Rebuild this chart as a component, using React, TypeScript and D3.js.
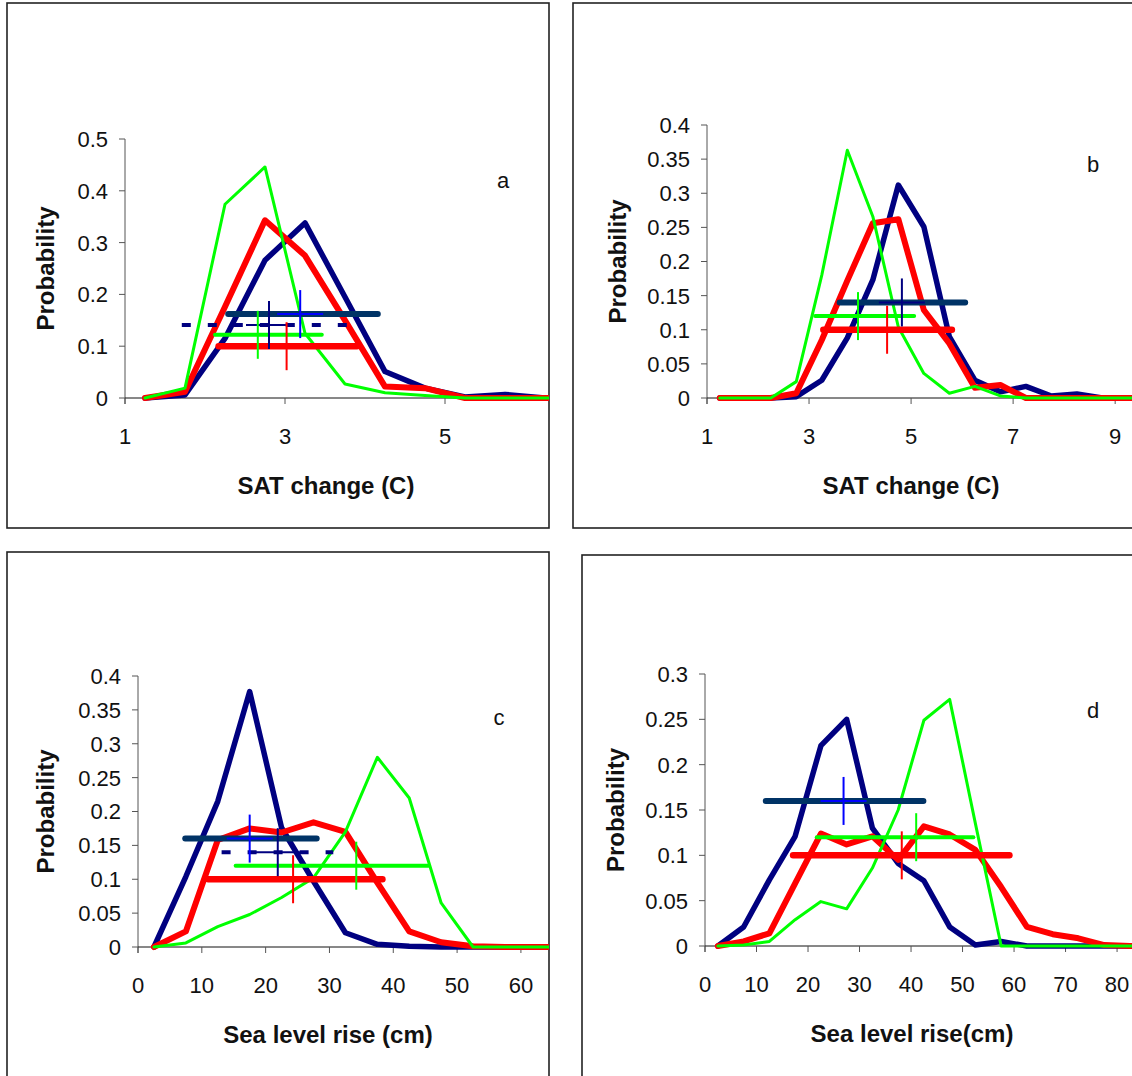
import React from "react";
import * as d3 from "d3";

// ---- Panel a: surface air temperature change (C) ----
const A_X = [1.25, 1.75, 2.25, 2.75, 3.25, 3.75, 4.25, 4.75, 5.25, 5.75, 6.25, 6.75];
const A_NAVY = [0, 0.006, 0.115, 0.266, 0.338, 0.195, 0.051, 0.019, 0.002, 0.007, 0, 0];
const A_RED = [0, 0.012, 0.176, 0.343, 0.275, 0.15, 0.022, 0.019, 0, 0, 0, 0];
const A_GREEN = [0, 0.019, 0.374, 0.446, 0.125, 0.027, 0.01, 0.005, 0, 0, 0, 0];
const A_RANGES = [
  { kind: "slate", lo: 2.29, hi: 4.16, y: 0.162, mid: 3.19 },
  { kind: "navyDash", lo: 1.71, hi: 3.78, y: 0.141, mid: 2.8 },
  { kind: "green", lo: 2.125, hi: 3.46, y: 0.122, mid: 2.66 },
  { kind: "red", lo: 2.17, hi: 3.9, y: 0.1, mid: 3.02 },
];
const A_XTICKS = [1, 3, 5];
const A_YTICKS = [0, 0.1, 0.2, 0.3, 0.4, 0.5];

// ---- Panel b: surface air temperature change (C) ----
const B_X = [1.25, 1.75, 2.25, 2.75, 3.25, 3.75, 4.25, 4.75, 5.25, 5.75, 6.25, 6.75, 7.25, 7.75, 8.25, 8.75, 9.25, 9.75];
const B_NAVY = [0, 0, 0, 0.002, 0.026, 0.088, 0.173, 0.312, 0.251, 0.09, 0.026, 0.009, 0.017, 0.003, 0.006, 0, 0, 0];
const B_RED = [0, 0, 0, 0.007, 0.085, 0.172, 0.256, 0.262, 0.129, 0.08, 0.015, 0.019, 0, 0, 0, 0, 0, 0];
const B_GREEN = [0, 0, 0, 0.024, 0.18, 0.363, 0.266, 0.104, 0.036, 0.007, 0.017, 0.003, 0, 0, 0, 0, 0, 0];
const B_RANGES = [
  { kind: "slateNavy", lo: 3.6, hi: 6.06, y: 0.14, mid: 4.82 },
  { kind: "green", lo: 3.12, hi: 5.06, y: 0.12, mid: 3.96 },
  { kind: "red", lo: 3.28, hi: 5.8, y: 0.1, mid: 4.53 },
];
const B_XTICKS = [1, 3, 5, 7, 9];
const B_YTICKS = [0, 0.05, 0.1, 0.15, 0.2, 0.25, 0.3, 0.35, 0.4];

// ---- Panel c: sea level rise (cm) ----
const C_X = [2.5, 7.5, 12.5, 17.5, 22.5, 27.5, 32.5, 37.5, 42.5, 47.5, 52.5, 57.5, 62.5, 67.5];
const C_NAVY = [0, 0.104, 0.215, 0.377, 0.176, 0.097, 0.021, 0.004, 0.001, 0, 0, 0, 0, 0];
const C_RED = [0, 0.023, 0.158, 0.175, 0.169, 0.184, 0.17, 0.095, 0.023, 0.007, 0.001, 0, 0, 0];
const C_GREEN = [0, 0.006, 0.03, 0.048, 0.073, 0.102, 0.17, 0.28, 0.22, 0.065, 0, 0, 0, 0];
const C_RANGES = [
  { kind: "slate", lo: 7.4, hi: 28.0, y: 0.16, mid: 17.5 },
  { kind: "navyDash", lo: 13.1, hi: 30.6, y: 0.14, mid: 21.9 },
  { kind: "green", lo: 15.3, hi: 45.5, y: 0.12, mid: 34.2 },
  { kind: "red", lo: 11.0, hi: 38.3, y: 0.1, mid: 24.3 },
];
const C_XTICKS = [0, 10, 20, 30, 40, 50, 60];
const C_YTICKS = [0, 0.05, 0.1, 0.15, 0.2, 0.25, 0.3, 0.35, 0.4];

// ---- Panel d: sea level rise (cm) ----
const D_X = [2.5, 7.5, 12.5, 17.5, 22.5, 27.5, 32.5, 37.5, 42.5, 47.5, 52.5, 57.5, 62.5, 67.5, 72.5, 77.5, 82.5, 87.5];
const D_NAVY = [0, 0.021, 0.073, 0.121, 0.221, 0.25, 0.13, 0.091, 0.072, 0.021, 0.001, 0.005, 0, 0, 0, 0, 0, 0];
const D_RED = [0, 0.005, 0.014, 0.069, 0.124, 0.112, 0.121, 0.095, 0.132, 0.123, 0.106, 0.065, 0.021, 0.013, 0.0085, 0.001, 0, 0];
const D_GREEN = [0, 0.001, 0.005, 0.029, 0.049, 0.041, 0.086, 0.15, 0.249, 0.272, 0.135, 0, 0, 0, 0, 0, 0, 0];
const D_RANGES = [
  { kind: "slate", lo: 11.8, hi: 42.4, y: 0.16, mid: 26.9 },
  { kind: "green", lo: 21.7, hi: 52.1, y: 0.12, mid: 41.0 },
  { kind: "red", lo: 17.1, hi: 59.1, y: 0.1, mid: 38.2 },
];
const D_XTICKS = [0, 10, 20, 30, 40, 50, 60, 70, 80];
const D_YTICKS = [0, 0.05, 0.1, 0.15, 0.2, 0.25, 0.3];

const NAVY = "#000080";
const RED = "#ff0000";
const GREEN = "#00ff00";
const SLATE = "#003366";
const BLUE = "#0000ff";
const FONT = "'Liberation Sans', Arial, sans-serif";

// bar style and cross colour for each range marker kind
const RANGE_STYLE: Record<string, { stroke: string; width: number; dash?: string; cross: string; arm: boolean }> = {
  slate: { stroke: SLATE, width: 6, cross: BLUE, arm: true },
  slateNavy: { stroke: SLATE, width: 6, cross: NAVY, arm: true },
  navyDash: { stroke: NAVY, width: 4, dash: "9,17", cross: NAVY, arm: true },
  green: { stroke: GREEN, width: 4, cross: GREEN, arm: false },
  red: { stroke: RED, width: 6.5, cross: RED, arm: false },
};

const panels = [
  {
    id: "a", frame: [7, 3, 542, 525], px: [125, 549], py: [398, 139], xDomain: [1, 6.3], yMax: 0.5,
    xs: A_X, navy: A_NAVY, red: A_RED, green: A_GREEN, ranges: A_RANGES,
    xTicks: A_XTICKS, yTicks: A_YTICKS, xTitle: "SAT change (C)", xTitleX: 326, probX: 45, letter: [503, 180],
  },
  {
    id: "b", frame: [573, 3, 600, 525], px: [707, 1132], py: [398, 125], xDomain: [1, 9.33], yMax: 0.4,
    xs: B_X, navy: B_NAVY, red: B_RED, green: B_GREEN, ranges: B_RANGES,
    xTicks: B_XTICKS, yTicks: B_YTICKS, xTitle: "SAT change (C)", xTitleX: 911, probX: 617, letter: [1093, 164],
  },
  {
    id: "c", frame: [7, 552, 542, 560], px: [138, 549], py: [947, 676], xDomain: [0, 64.4], yMax: 0.4,
    xs: C_X, navy: C_NAVY, red: C_RED, green: C_GREEN, ranges: C_RANGES,
    xTicks: C_XTICKS, yTicks: C_YTICKS, xTitle: "Sea level rise (cm)", xTitleX: 328, probX: 45, letter: [499, 717],
  },
  {
    id: "d", frame: [582, 555, 600, 560], px: [705, 1132], py: [946, 674], xDomain: [0, 82.9], yMax: 0.3,
    xs: D_X, navy: D_NAVY, red: D_RED, green: D_GREEN, ranges: D_RANGES,
    xTicks: D_XTICKS, yTicks: D_YTICKS, xTitle: "Sea level rise(cm)", xTitleX: 912, probX: 615, letter: [1093, 710],
  },
];

const fmt = (v: number) => (v === 0 ? "0" : String(+v.toFixed(2)));

function Panel({ p }: { p: (typeof panels)[number] }) {
  const x = d3.scaleLinear().domain(p.xDomain).range(p.px);
  const y = d3.scaleLinear().domain([0, p.yMax]).range(p.py);
  const line = d3
    .line<number>()
    .x((_, i) => x(p.xs[i]))
    .y((v) => y(v));
  const clipId = `clip-${p.id}`;
  const [fx, fy, fw, fh] = p.frame;
  const armV = 24;
  const armH = 23;
  return (
    <g>
      <rect x={fx} y={fy} width={fw} height={fh} fill="#fff" stroke="#222" strokeWidth={1.6} />
      <clipPath id={clipId}>
        <rect x={p.px[0] - 10} y={p.py[1] - 40} width={p.px[1] - p.px[0] + 10} height={p.py[0] - p.py[1] + 50} />
      </clipPath>

      {/* axes */}
      <line x1={p.px[0]} x2={p.px[0]} y1={p.py[1]} y2={p.py[0] + 6} stroke="#555" strokeWidth={1} />
      <line x1={p.px[0]} x2={p.px[1]} y1={p.py[0]} y2={p.py[0]} stroke="#111" strokeWidth={1} />
      {p.yTicks.map((t) => (
        <g key={`y${t}`}>
          <line x1={p.px[0] - 6} x2={p.px[0]} y1={y(t)} y2={y(t)} stroke="#555" strokeWidth={1} />
          <text x={p.px[0] - 17} y={y(t)} dy="0.36em" textAnchor="end" fontSize={22} fontFamily={FONT} fill="#111">
            {fmt(t)}
          </text>
        </g>
      ))}
      {p.xTicks.map((t) => (
        <g key={`x${t}`}>
          <line x1={x(t)} x2={x(t)} y1={p.py[0]} y2={p.py[0] + 6} stroke="#555" strokeWidth={1} />
          <text x={x(t)} y={p.py[0] + 38} dy="0.36em" textAnchor="middle" fontSize={22} fontFamily={FONT} fill="#111">
            {t}
          </text>
        </g>
      ))}

      {/* distribution curves */}
      <g clipPath={`url(#${clipId})`} fill="none" strokeLinejoin="round" strokeLinecap="round">
        <path d={line(p.navy) || ""} stroke={NAVY} strokeWidth={5.5} />
        <path d={line(p.red) || ""} stroke={RED} strokeWidth={6} />
        <path d={line(p.green) || ""} stroke={GREEN} strokeWidth={3} />
      </g>

      {/* ranges with central markers */}
      {p.ranges.map((r, i) => {
        const s = RANGE_STYLE[r.kind];
        return (
          <line
            key={`r${i}`}
            x1={x(r.lo)}
            x2={x(r.hi)}
            y1={y(r.y)}
            y2={y(r.y)}
            stroke={s.stroke}
            strokeWidth={s.width}
            strokeDasharray={s.dash}
            strokeLinecap={s.dash ? "butt" : "round"}
          />
        );
      })}
      {p.ranges.map((r, i) => {
        const s = RANGE_STYLE[r.kind];
        const cx = x(r.mid);
        const cy = y(r.y);
        return (
          <g key={`c${i}`} stroke={s.cross} strokeWidth={2}>
            <line x1={cx} x2={cx} y1={cy - armV} y2={cy + armV} />
            {s.arm && <line x1={cx - armH} x2={cx + armH} y1={cy} y2={cy} />}
          </g>
        );
      })}

      {/* titles */}
      <text x={p.xTitleX} y={p.py[0] + 87} dy="0.36em" textAnchor="middle" fontSize={24} fontWeight="bold" fontFamily={FONT} fill="#111">
        {p.xTitle}
      </text>
      <text
        transform={`translate(${p.probX},${(p.py[0] + p.py[1]) / 2}) rotate(-90)`}
        dy="0.36em"
        textAnchor="middle"
        fontSize={24}
        fontWeight="bold"
        fontFamily={FONT}
        fill="#111"
      >
        Probability
      </text>
      <text x={p.letter[0]} y={p.letter[1]} dy="0.36em" textAnchor="middle" fontSize={22} fontFamily={FONT} fill="#111">
        {p.id}
      </text>
    </g>
  );
}

export default function App() {
  return (
    <svg
      width={1132}
      height={1076}
      viewBox="0 0 1132 1076"
      style={{ position: "absolute", left: 0, top: 0, background: "#fff" }}
    >
      <rect width={1132} height={1076} fill="#fff" />
      {panels.map((p) => (
        <Panel key={p.id} p={p} />
      ))}
    </svg>
  );
}
